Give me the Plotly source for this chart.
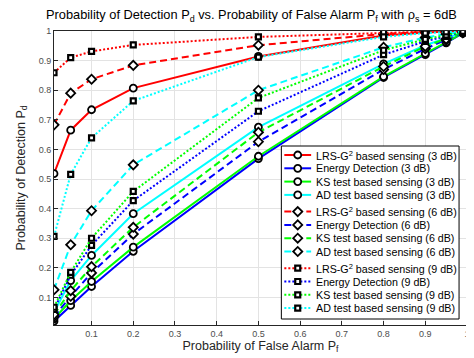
import plotly.graph_objects as go

pf = [0.01, 0.05, 0.1, 0.2, 0.5, 0.8, 0.9, 0.95, 0.99]

lrs_3 = [0.518, 0.665, 0.734, 0.807, 0.914, 0.985, 0.995, 0.998, 1.0]
ed_3 = [0.020, 0.073, 0.137, 0.256, 0.569, 0.843, 0.920, 0.960, 0.993]
ks_3 = [0.028, 0.089, 0.154, 0.270, 0.577, 0.846, 0.924, 0.962, 0.993]
ad_3 = [0.050, 0.157, 0.242, 0.383, 0.675, 0.889, 0.952, 0.975, 0.995]

lrs_6 = [0.683, 0.790, 0.837, 0.884, 0.952, 0.990, 0.997, 0.999, 1.0]
ed_6 = [0.035, 0.104, 0.183, 0.314, 0.626, 0.870, 0.940, 0.970, 0.994]
ks_6 = [0.042, 0.123, 0.204, 0.337, 0.658, 0.880, 0.948, 0.973, 0.995]
ad_6 = [0.126, 0.278, 0.393, 0.548, 0.800, 0.945, 0.978, 0.990, 0.997]

lrs_9 = [0.859, 0.910, 0.931, 0.953, 0.980, 0.995, 0.999, 1.0, 1.0]
ed_9 = [0.060, 0.175, 0.276, 0.427, 0.729, 0.920, 0.965, 0.982, 0.996]
ks_9 = [0.067, 0.185, 0.300, 0.458, 0.774, 0.935, 0.972, 0.986, 0.997]
ad_9 = [0.306, 0.516, 0.639, 0.764, 0.912, 0.980, 0.993, 0.997, 0.999]

names = ["LRS-G<sup>2</sup> based sensing", "Energy Detection",
         "KS test based sensing", "AD test based sensing"]
colors = ["#ff0000", "#0000ff", "#00ff00", "#00ffff"]
groups = [
    ("3 dB", [lrs_3, ed_3, ks_3, ad_3], "solid", "circle", 7),
    ("6 dB", [lrs_6, ed_6, ks_6, ad_6], "7px,4px", "diamond", 7),
    ("9 dB", [lrs_9, ed_9, ks_9, ad_9], "2px,2px", "square", 5),
]

FONT = "Liberation Sans, Arial, Helvetica"
W, H = 474, 358
ML, MR, MT, MB = 43, 15, 23, 41

fig = go.Figure()

def marker_style(sym, msize):
    return dict(symbol=sym, size=msize, color="white",
                line=dict(color="black", width=1.8 if sym != "square" else 2.2))

for snr, series, dash, sym, msize in groups:
    for nm, col, ys in zip(names, colors, series):
        fig.add_trace(go.Scatter(
            x=pf, y=ys, mode="lines+markers", showlegend=False,
            name=f"{nm} ({snr})",
            line=dict(color=col, width=2, dash=dash),
            marker=marker_style(sym, msize),
        ))

# ---- custom legend drawn on an overlay axis measured in pixels ----
leg_left, leg_right, leg_top, leg_bottom = 272, 451, 138, 311
row_h = 13.3
lrs_extra = 3.4
rows = []
yc = leg_top + 9.0
for gi, (snr, series, dash, sym, msize) in enumerate(groups):
    for ni, (nm, col) in enumerate(zip(names, colors)):
        if ni == 0 and gi > 0:
            yc += lrs_extra
        rows.append((yc, f"{nm} ({snr})", col, dash, sym, msize))
        yc += row_h

fig.add_trace(go.Scatter(
    x=[leg_left, leg_right, leg_right, leg_left, leg_left],
    y=[leg_top, leg_top, leg_bottom, leg_bottom, leg_top],
    mode="lines", fill="toself", fillcolor="white",
    line=dict(color="black", width=1), xaxis="x2", yaxis="y2",
    showlegend=False, hoverinfo="skip",
))
annotations = []
for (y, label, col, dash, sym, msize) in rows:
    fig.add_trace(go.Scatter(
        x=[leg_left + 3, leg_left + 30], y=[y, y], mode="lines",
        line=dict(color=col, width=2, dash=dash), xaxis="x2", yaxis="y2",
        showlegend=False, hoverinfo="skip",
    ))
    fig.add_trace(go.Scatter(
        x=[leg_left + 16.5], y=[y], mode="markers",
        marker=marker_style(sym, msize), xaxis="x2", yaxis="y2",
        showlegend=False, hoverinfo="skip",
    ))
    annotations.append(dict(
        x=leg_left + 33, y=y, xref="x2", yref="y2", text=label,
        showarrow=False, xanchor="left", yanchor="middle",
        font=dict(family=FONT, size=10.7, color="black"),
    ))

axis_common = dict(
    showgrid=True, gridcolor="#e3e3e3", gridwidth=1,
    showline=True, linecolor="#262626", linewidth=1, mirror=True,
    ticks="inside", ticklen=4, tickcolor="#262626",
    tickfont=dict(family=FONT, size=9, color="#4d4d4d"),
    zeroline=False,
)
tv = [0.1, 0.2, 0.3, 0.4, 0.5, 0.6, 0.7, 0.8, 0.9, 1]
tt = ["0.1", "0.2", "0.3", "0.4", "0.5", "0.6", "0.7", "0.8", "0.9", "1"]

fig.update_layout(
    width=W, height=H,
    margin=dict(l=ML, r=MR, t=MT, b=MB),
    paper_bgcolor="white", plot_bgcolor="white",
    title=dict(
        text="Probability of Detection P<sub>d</sub> vs. Probability of False Alarm P<sub>f</sub> with ρ<sub>s</sub> = 6dB",
        x=0.478, xref="paper", xanchor="center", y=0.993, yanchor="top",
        font=dict(family=FONT, size=12.8, color="black"),
    ),
    xaxis=dict(range=[0.01, 1], tickvals=tv, ticktext=tt,
               title=dict(text="Probability of False Alarm P<sub>f</sub>", standoff=2,
                          font=dict(family=FONT, size=12.5, color="#262626")),
               **axis_common),
    yaxis=dict(range=[0.007, 1], tickvals=tv, ticktext=tt,
               title=dict(text="Probability of Detection P<sub>d</sub>", standoff=10,
                          font=dict(family=FONT, size=12.5, color="#262626")),
               **axis_common),
    xaxis2=dict(overlaying="x", range=[ML, W - MR], visible=False, fixedrange=True),
    yaxis2=dict(overlaying="y", range=[H - MB, MT], visible=False, fixedrange=True),
    annotations=annotations,
    showlegend=False,
)

fig.write_html("out.html")
